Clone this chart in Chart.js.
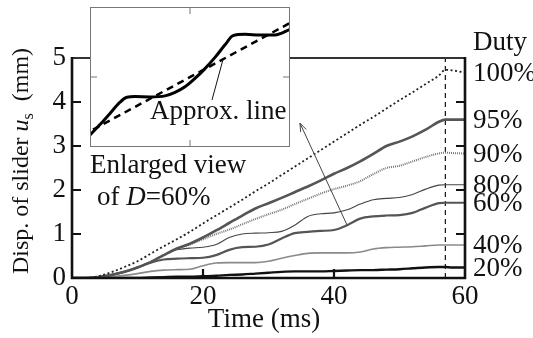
<!DOCTYPE html>
<html>
<head>
<meta charset="utf-8">
<script src="https://cdn.jsdelivr.net/npm/chart.js@4.4.1/dist/chart.umd.min.js"></script>
<style>
  html, body { margin: 0; padding: 0; background: #fff; }
  #wrap { position: relative; width: 533px; height: 338px; overflow: hidden; }
  #main { position: absolute; left: 0; top: 0; }
  #inset { position: absolute; left: 90px; top: 7px; background: #fff; }
</style>
</head>
<body>
<div id="wrap">
  <canvas id="main" width="533" height="338"></canvas>
  <canvas id="inset" width="200" height="140"></canvas>
</div>
<script>
// time axis (ms) shared by all duty curves
const timeMs = [0, 2, 4, 6, 8, 10, 12, 14, 16, 18, 20, 22, 24, 26, 28, 30, 32, 34, 36, 38, 40, 42, 44, 46, 48, 50, 52, 54, 56, 57, 58, 60];

// slider displacement (mm) for each duty ratio
const duty100 = [0, 0, 0.04, 0.13, 0.25, 0.38, 0.55, 0.72, 0.88, 1.05, 1.24, 1.42, 1.6, 1.78, 1.97, 2.15, 2.34, 2.53, 2.72, 2.91, 3.1, 3.29, 3.48, 3.66, 3.85, 4.04, 4.22, 4.41, 4.6, 4.73, 4.72, 4.67];
const duty95 = [0, 0, 0.02, 0.07, 0.14, 0.24, 0.36, 0.52, 0.67, 0.78, 0.92, 1.08, 1.25, 1.42, 1.58, 1.7, 1.82, 1.95, 2.08, 2.22, 2.37, 2.5, 2.65, 2.82, 3.0, 3.1, 3.22, 3.37, 3.55, 3.6, 3.6, 3.6];
const duty90 = [0, 0, 0.02, 0.07, 0.14, 0.24, 0.36, 0.52, 0.66, 0.76, 0.88, 1.0, 1.1, 1.22, 1.34, 1.45, 1.55, 1.68, 1.8, 1.92, 2.02, 2.1, 2.2, 2.36, 2.5, 2.55, 2.65, 2.75, 2.83, 2.85, 2.84, 2.83];
const duty80 = [0, 0, 0.02, 0.07, 0.14, 0.24, 0.36, 0.52, 0.64, 0.68, 0.7, 0.76, 0.92, 1.0, 1.02, 1.03, 1.06, 1.2, 1.4, 1.46, 1.48, 1.55, 1.68, 1.78, 1.81, 1.83, 1.9, 2.02, 2.11, 2.12, 2.12, 2.12];
const duty60 = [0, 0, 0.02, 0.07, 0.14, 0.24, 0.35, 0.42, 0.44, 0.45, 0.46, 0.52, 0.64, 0.7, 0.71, 0.76, 0.9, 1.02, 1.05, 1.07, 1.09, 1.2, 1.35, 1.4, 1.42, 1.43, 1.48, 1.6, 1.7, 1.71, 1.71, 1.71];
const duty40 = [0, 0, 0.01, 0.03, 0.06, 0.1, 0.15, 0.18, 0.19, 0.2, 0.28, 0.34, 0.35, 0.35, 0.35, 0.38, 0.45, 0.51, 0.56, 0.57, 0.57, 0.57, 0.59, 0.66, 0.69, 0.7, 0.71, 0.73, 0.75, 0.75, 0.75, 0.75];
const duty20 = [0, 0, 0, 0, 0, 0, 0.01, 0.02, 0.03, 0.03, 0.04, 0.05, 0.07, 0.08, 0.1, 0.12, 0.14, 0.15, 0.15, 0.15, 0.16, 0.17, 0.18, 0.18, 0.19, 0.2, 0.22, 0.24, 0.25, 0.25, 0.24, 0.24];

const dutyLabels = ['100%', '95%', '90%', '80%', '60%', '40%', '20%'];
const xTicks = [0, 20, 40, 60];
const yTicks = [0, 1, 2, 3, 4, 5];
const switchOffMs = 57;

// inset: enlarged view of D=60% (relative time, relative displacement)
const insetTime = [0, 1, 2, 3, 3.7, 4.5, 6, 7.5, 8.5, 9.5, 10.5, 11.5, 12.5, 13.5, 14.3, 15.5, 17, 18.5, 20];
const insetDisp = [0.086, 0.16, 0.24, 0.32, 0.355, 0.36, 0.358, 0.365, 0.39, 0.43, 0.49, 0.56, 0.64, 0.73, 0.795, 0.805, 0.8, 0.8, 0.84];
const approxTime = [0.3, 20];
const approxDisp = [0.124, 0.886];

const SERIF = "'Liberation Serif', 'DejaVu Serif', serif";
const FS = 27;
const pts = (xs, ys) => xs.map((x, i) => ({ x, y: ys[i] }));

const seriesList = [duty100, duty95, duty90, duty80, duty60, duty40, duty20];
const styles = [
  { color: '#222', width: 1.8, dash: [2, 2.5] },
  { color: '#555', width: 2.6, dash: [] },
  { color: '#777', width: 2, dash: [1, 1] },
  { color: '#444', width: 1.1, dash: [] },
  { color: '#555', width: 2.2, dash: [] },
  { color: '#8a8a8a', width: 1.6, dash: [] },
  { color: '#111', width: 2.4, dash: [] }
];

const datasets = seriesList.map((s, i) => ({
  label: dutyLabels[i],
  data: pts(timeMs, s),
  borderColor: styles[i].color,
  borderWidth: styles[i].width,
  borderDash: styles[i].dash,
  pointRadius: 0,
  fill: false,
  cubicInterpolationMode: 'monotone'
}));

datasets.push({
  label: 'off',
  data: pts([switchOffMs, switchOffMs], [0, 5]),
  borderColor: '#111',
  borderWidth: 1.2,
  borderDash: [5, 4],
  pointRadius: 0
});

const mainDecor = {
  id: 'mainDecor',
  afterDatasetsDraw(chart) {
    const { ctx, chartArea: a, scales: { x, y } } = chart;
    ctx.save();
    // frame
    ctx.strokeStyle = '#333';
    ctx.lineWidth = 2;
    ctx.beginPath();
    ctx.moveTo(a.left, a.top);
    ctx.lineTo(a.right, a.top);
    ctx.stroke();
    ctx.strokeStyle = '#111';
    ctx.lineWidth = 2.6;
    ctx.beginPath();
    ctx.moveTo(a.left, a.top - 1);
    ctx.lineTo(a.left, a.bottom);
    ctx.lineTo(a.right, a.bottom);
    ctx.lineTo(a.right, a.top - 1);
    ctx.stroke();

    // inward ticks
    ctx.lineWidth = 2.2;
    ctx.beginPath();
    yTicks.slice(1, -1).forEach((v) => {
      const py = y.getPixelForValue(v);
      ctx.moveTo(a.left, py); ctx.lineTo(a.left + 9, py);
      ctx.moveTo(a.right, py); ctx.lineTo(a.right - 9, py);
    });
    xTicks.slice(1, -1).forEach((v) => {
      const px = x.getPixelForValue(v);
      ctx.moveTo(px, a.bottom); ctx.lineTo(px, a.bottom - 9);
    });
    ctx.stroke();

    // arrow showing increasing duty
    const x0 = x.getPixelForValue(42), y0 = y.getPixelForValue(1.2);
    const x1 = x.getPixelForValue(34.8), y1 = y.getPixelForValue(3.52);
    ctx.strokeStyle = '#444';
    ctx.lineWidth = 1;
    ctx.beginPath();
    ctx.moveTo(x0, y0); ctx.lineTo(x1, y1);
    const ang = Math.atan2(y1 - y0, x1 - x0);
    ctx.moveTo(x1, y1);
    ctx.lineTo(x1 - 9 * Math.cos(ang - 0.35), y1 - 9 * Math.sin(ang - 0.35));
    ctx.moveTo(x1, y1);
    ctx.lineTo(x1 - 9 * Math.cos(ang + 0.35), y1 - 9 * Math.sin(ang + 0.35));
    ctx.stroke();

    // duty labels on the right
    ctx.fillStyle = '#111';
    ctx.font = `${FS}px ${SERIF}`;
    ctx.textAlign = 'left';
    ctx.textBaseline = 'middle';
    ctx.fillText('Duty', a.right + 8, 43);
    seriesList.forEach((s, i) => {
      const last = s[s.length - 1];
      ctx.fillText(dutyLabels[i], a.right + 8, y.getPixelForValue(last) + 1);
    });

    // axis titles
    ctx.textBaseline = 'alphabetic';
    ctx.textAlign = 'center';
    ctx.fillText('Time (ms)', 264, 327);

    ctx.save();
    ctx.translate(28, 161);
    ctx.rotate(-Math.PI / 2);
    const tn = `24px ${SERIF}`, ti = `italic 24px ${SERIF}`, ts = `16px ${SERIF}`;
    const parts = [
      ['Disp. of slider ', tn, 0],
      ['u', ti, 0],
      ['s', ts, 5],
      ['  (mm)', tn, 0]
    ];
    let total = 0;
    parts.forEach(([t, f]) => { ctx.font = f; total += ctx.measureText(t).width; });
    let cx = -total / 2;
    ctx.textAlign = 'left';
    parts.forEach(([t, f, dy]) => {
      ctx.font = f;
      ctx.fillText(t, cx, dy);
      cx += ctx.measureText(t).width;
    });
    ctx.restore();

    // caption under the inset
    const normal = `${FS}px ${SERIF}`, ital = `italic ${FS}px ${SERIF}`;
    ctx.textAlign = 'left';
    ctx.font = normal;
    ctx.fillText('Enlarged view', 90, 173);
    let px = 97;
    [['of ', normal], ['D', ital], ['=60%', normal]].forEach(([t, f]) => {
      ctx.font = f;
      ctx.fillText(t, px, 205);
      px += ctx.measureText(t).width;
    });
    ctx.restore();
  }
};

new Chart(document.getElementById('main'), {
  type: 'line',
  data: { datasets },
  options: {
    responsive: false,
    animation: false,
    events: [],
    layout: { padding: { top: 58, right: 68, left: 0, bottom: 0 } },
    scales: {
      x: {
        type: 'linear',
        min: 0,
        max: 60,
        afterBuildTicks: (s) => { s.ticks = xTicks.map((v) => ({ value: v })); },
        afterFit: (s) => { s.height = 60; },
        grid: { display: false, drawTicks: false },
        border: { display: false },
        ticks: { color: '#111', padding: 3, font: { family: SERIF, size: FS } }
      },
      y: {
        min: 0,
        max: 5,
        afterBuildTicks: (s) => { s.ticks = yTicks.map((v) => ({ value: v })); },
        afterFit: (s) => { s.width = 72; },
        grid: { display: false, drawTicks: false },
        border: { display: false },
        ticks: { color: '#111', padding: 6, font: { family: SERIF, size: FS } }
      }
    },
    plugins: { legend: { display: false }, tooltip: { enabled: false } }
  },
  plugins: [mainDecor]
});

const insetDecor = {
  id: 'insetDecor',
  afterDatasetsDraw(chart) {
    const { ctx, scales: { x, y } } = chart;
    ctx.save();
    ctx.strokeStyle = '#777';
    ctx.lineWidth = 1;
    ctx.strokeRect(0.5, 0.5, chart.width - 1, chart.height - 1);
    const mx = x.getPixelForValue(10), my = y.getPixelForValue(0.5);
    ctx.beginPath();
    ctx.moveTo(mx, 0); ctx.lineTo(mx, 7);
    ctx.moveTo(mx, chart.height); ctx.lineTo(mx, chart.height - 7);
    ctx.moveTo(0, my); ctx.lineTo(7, my);
    ctx.moveTo(chart.width, my); ctx.lineTo(chart.width - 7, my);
    ctx.stroke();

    // pointer to the approximation line
    ctx.strokeStyle = '#111';
    ctx.lineWidth = 1;
    ctx.beginPath();
    ctx.moveTo(x.getPixelForValue(12.2), y.getPixelForValue(0.336));
    ctx.lineTo(x.getPixelForValue(13.3), y.getPixelForValue(0.625));
    ctx.stroke();

    ctx.fillStyle = '#111';
    ctx.font = `${FS}px ${SERIF}`;
    ctx.textAlign = 'left';
    ctx.textBaseline = 'alphabetic';
    ctx.fillText('Approx. line', x.getPixelForValue(6), 112);
    ctx.restore();
  }
};

new Chart(document.getElementById('inset'), {
  type: 'line',
  data: {
    datasets: [
      {
        data: pts(insetTime, insetDisp),
        borderColor: '#000',
        borderWidth: 3,
        pointRadius: 0,
        cubicInterpolationMode: 'monotone'
      },
      {
        data: pts(approxTime, approxDisp),
        borderColor: '#000',
        borderWidth: 2.5,
        borderDash: [7, 5],
        pointRadius: 0
      }
    ]
  },
  options: {
    responsive: false,
    animation: false,
    events: [],
    layout: { padding: 0 },
    scales: {
      x: { type: 'linear', min: 0, max: 20, display: false },
      y: { min: 0, max: 1, display: false }
    },
    plugins: { legend: { display: false }, tooltip: { enabled: false } }
  },
  plugins: [insetDecor]
});
</script>
</body>
</html>
